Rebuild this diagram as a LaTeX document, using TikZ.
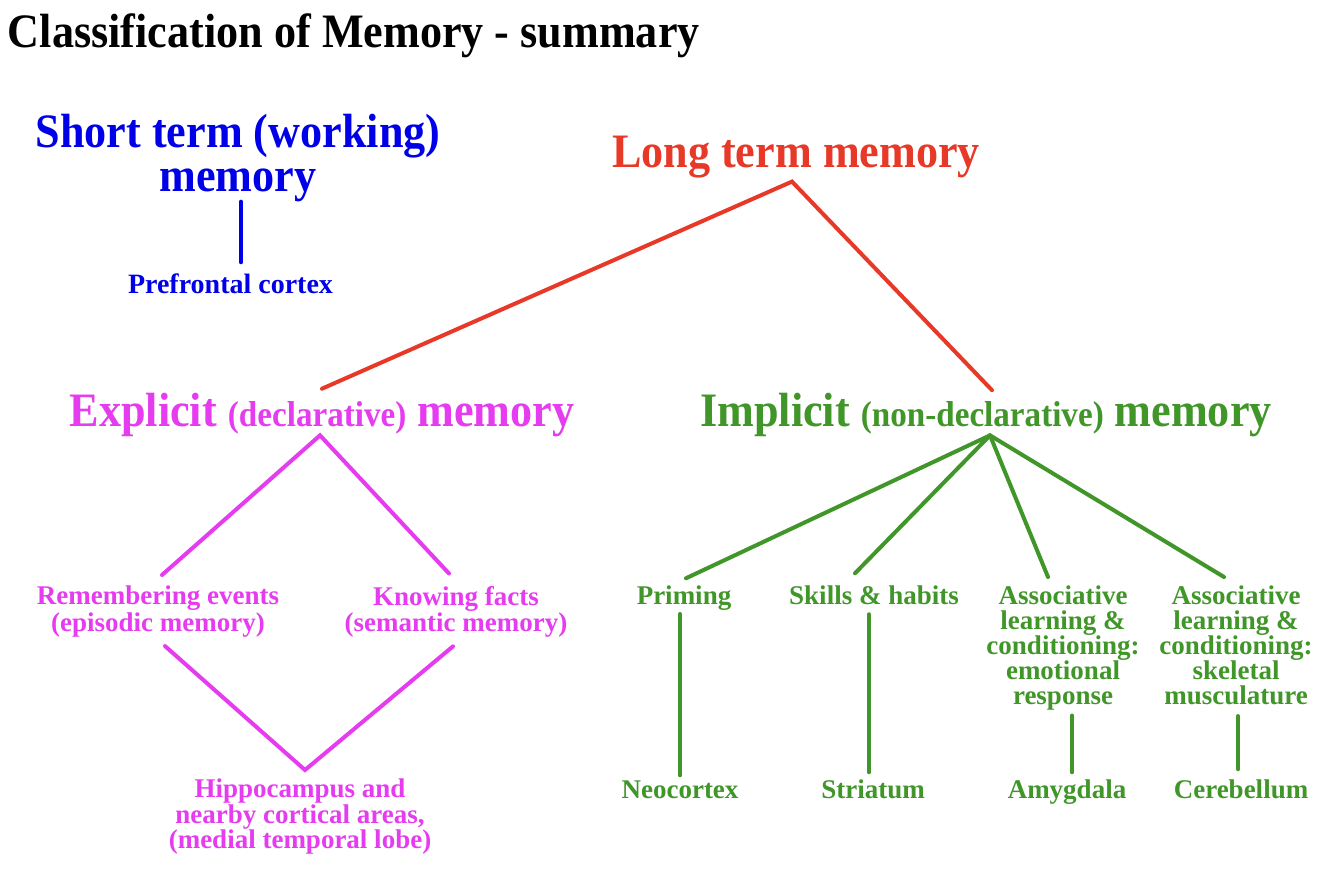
\documentclass[tikz,border=0pt]{standalone}
\usepackage{fontspec}
\setmainfont{Liberation Serif}
\newfontfamily\bigfont[FakeStretch=0.92]{Liberation Serif}
\definecolor{cblue}{RGB}{0,0,232}
\definecolor{cred}{RGB}{232,56,40}
\definecolor{cmag}{RGB}{230,60,240}
\definecolor{cgreen}{RGB}{64,150,40}
\begin{document}
\begin{tikzpicture}[x=1pt,y=-1pt,
  every node/.style={inner sep=0pt,outer sep=0pt},
  big/.style={font=\bigfont\fontsize{48}{44}\selectfont\bfseries},
  small/.style={font=\fontsize{27}{25}\selectfont\bfseries,align=center},
  smallm/.style={font=\fontsize{27}{26.5}\selectfont\bfseries,align=center},
  pfcfont/.style={font=\fontsize{28}{28}\selectfont\bfseries},
  conn/.style={line width=4pt,line cap=round}]
\useasboundingbox (0,0) rectangle (1334,874);
\fill[white] (0,0) rectangle (1334,874);
% title
\node[big,anchor=base west] (title) at (8,48) {Classification of Memory - summary};
% short term
\node[big,text=cblue,align=center,anchor=north] (stm) at (238,114) {Short term (working)\\memory};
\node[pfcfont,text=cblue,anchor=base] (pfc) at (230.5,294) {Prefrontal cortex};
\draw[conn,cblue] ([xshift=3]stm.south) -- ([xshift=10.5,yshift=12]pfc.north);
% long term
\node[big,text=cred,anchor=base] (ltm) at (796,168) {Long term memory};
\node[big,text=cmag,anchor=base] (exp) at (322,427) {Explicit {\fontsize{36}{36}\selectfont(declarative)} memory};
\node[big,text=cgreen,anchor=base] (imp) at (986,427) {Implicit {\fontsize{36}{36}\selectfont(non-declarative)} memory};
\draw[conn,cred] ([yshift=5]exp.north) -- ([xshift=-4,yshift=-3]ltm.south) -- ([xshift=6,yshift=3.5]imp.north);
% explicit branch
\node[smallm,text=cmag,anchor=north] (rem) at (158,586) {Remembering events\\(episodic memory)};
\node[smallm,text=cmag,anchor=north] (know) at (456,586) {Knowing facts\\(semantic memory)};
\node[smallm,text=cmag,anchor=north,font=\fontsize{27}{25.5}\selectfont\bfseries] (hip) at (300,779) {Hippocampus and\\nearby cortical areas,\\(medial temporal lobe)};
\draw[conn,cmag] ([xshift=4,yshift=11]rem.north) -- ([xshift=-2,yshift=2]exp.south) -- ([xshift=-7,yshift=12.5]know.north);
\draw[conn,cmag] ([xshift=7,yshift=-9]rem.south) -- ([xshift=5,yshift=9]hip.north) -- ([xshift=-3,yshift=-9]know.south);
% implicit branch
\node[small,text=cgreen,anchor=base] (prim) at (684,604) {Priming};
\node[small,text=cgreen,anchor=base] (skill) at (874,604) {Skills \& habits};
\node[small,text=cgreen,anchor=north] (asa) at (1063,586) {Associative\\learning \&\\conditioning:\\emotional\\response};
\node[small,text=cgreen,anchor=north] (asb) at (1236,586) {Associative\\learning \&\\conditioning:\\skeletal\\musculature};
\node[small,text=cgreen,anchor=base] (neo) at (680,798) {Neocortex};
\node[small,text=cgreen,anchor=base] (str) at (873,798) {Striatum};
\node[small,text=cgreen,anchor=base] (amy) at (1067,798) {Amygdala};
\node[small,text=cgreen,anchor=base] (cer) at (1241,798) {Cerebellum};
\coordinate (impapex) at ([xshift=4,yshift=2]imp.south);
\draw[conn,cgreen] (impapex) -- ([xshift=2,yshift=7]prim.north);
\draw[conn,cgreen] (impapex) -- ([xshift=-19,yshift=12]skill.north);
\draw[conn,cgreen] (impapex) -- ([xshift=-15,yshift=9]asa.north);
\draw[conn,cgreen] (impapex) -- ([xshift=-12,yshift=9]asb.north);
\draw[conn,cgreen] ([xshift=-4,yshift=-4]prim.south) -- ([yshift=5]neo.north);
\draw[conn,cgreen] ([xshift=-5,yshift=-10]skill.south) -- ([xshift=-4,yshift=7]str.north);
\draw[conn,cgreen] ([xshift=9,yshift=-5]asa.south) -- ([xshift=5,yshift=7]amy.north);
\draw[conn,cgreen] ([xshift=2,yshift=-11]asb.south) -- ([xshift=-3,yshift=10]cer.north);
\end{tikzpicture}
\end{document}
